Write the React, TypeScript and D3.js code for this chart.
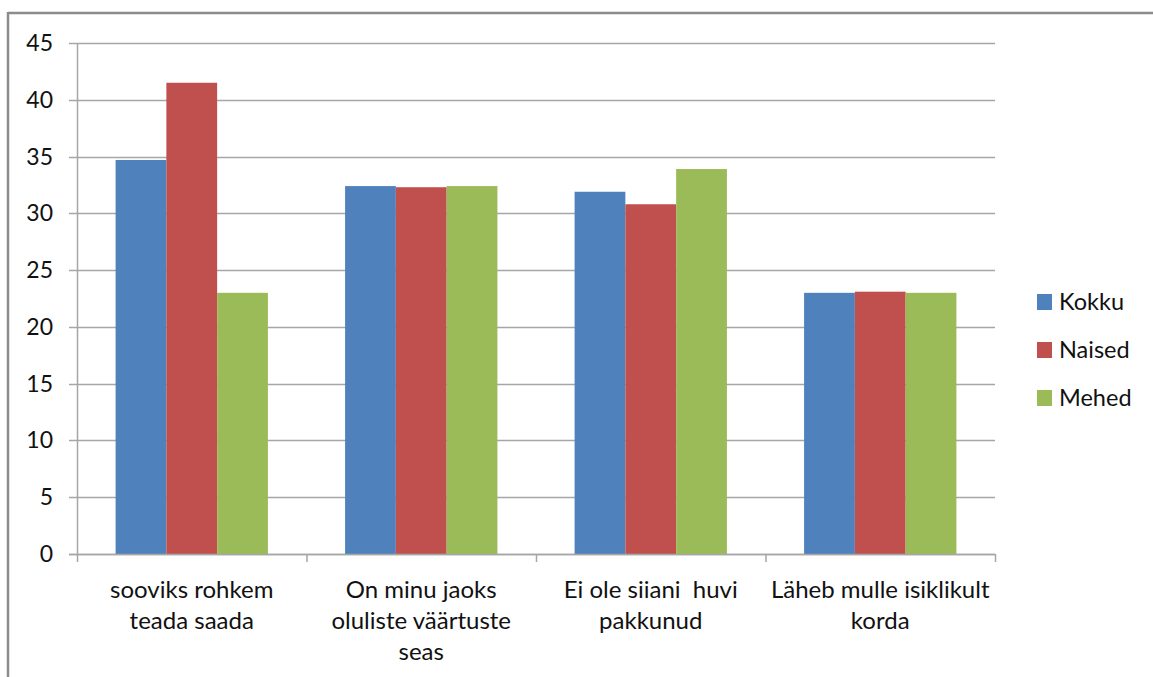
import React from "react";
import * as d3 from "d3";

const categories: string[][] = [
  ["sooviks rohkem", "teada saada"],
  ["On minu jaoks", "oluliste väärtuste", "seas"],
  ["Ei ole siiani  huvi", "pakkunud"],
  ["Läheb mulle isiklikult", "korda"],
];
const seriesNames = ["Kokku", "Naised", "Mehed"];
const seriesColors = ["#4f81bd", "#c0504d", "#9bbb59"];
const kokku = [34.7, 32.4, 31.9, 23.0];
const naised = [41.5, 32.3, 30.8, 23.1];
const mehed = [23.0, 32.4, 33.9, 23.0];
const yTicks = [0, 5, 10, 15, 20, 25, 30, 35, 40, 45];

const W = 1153;
const H = 677;
const FONT = "Lato, 'Open Sans', sans-serif";

export default function App() {
  const left = 77, right = 995, top = 43, bottom = 554;
  const series = [kokku, naised, mehed];
  const x0 = d3.scaleBand<number>().domain(d3.range(categories.length)).range([left, right]).paddingInner(0).paddingOuter(0);
  const x1 = d3.scaleBand<number>().domain([0, 1, 2]).range([0, x0.bandwidth()]).paddingInner(0).paddingOuter(0.76);
  const y = d3.scaleLinear().domain([0, 45]).range([bottom, top]);
  const grid = "#a6a6a6";
  return (
    <div style={{ position: "absolute", left: 0, top: 0 }}>
      <svg width={W} height={H} style={{ display: "block", background: "#fff" }}>
        <line x1={8} x2={W} y1={13} y2={13} stroke="#8c8c8c" strokeWidth={2.5} />
        <line x1={8} x2={8} y1={12} y2={H} stroke="#8c8c8c" strokeWidth={2.5} />
        {yTicks.map((t) => (
          <g key={t}>
            <line x1={69} x2={right} y1={Math.round(y(t)) + 0.5} y2={Math.round(y(t)) + 0.5} stroke={grid} strokeWidth={1.5} />
            <text x={53} y={y(t)} dy="0.35em" textAnchor="end" fontFamily={FONT} fontSize={23} fill="#111">{t}</text>
          </g>
        ))}
        {categories.map((_, ci) => (
          <g key={ci}>
            {series.map((s, si) => (
              <rect key={si}
                x={(x0(ci) as number) + (x1(si) as number)}
                y={y(s[ci])}
                width={x1.bandwidth()}
                height={bottom - y(s[ci])}
                fill={seriesColors[si]} />
            ))}
          </g>
        ))}
        <line x1={left + 0.5} x2={left + 0.5} y1={top} y2={bottom + 1} stroke={grid} strokeWidth={1.5} />
        <line x1={69} x2={right} y1={bottom + 0.5} y2={bottom + 0.5} stroke={grid} strokeWidth={1.5} />
        {d3.range(categories.length + 1).map((i) => {
          const xx = left + i * x0.step();
          return <line key={i} x1={xx + 0.5} x2={xx + 0.5} y1={bottom} y2={bottom + 8} stroke={grid} strokeWidth={1.5} />;
        })}
        {categories.map((lines, ci) => (
          <text key={ci} x={(x0(ci) as number) + x0.bandwidth() / 2} textAnchor="middle" fontFamily={FONT} fontSize={24} fill="#111">
            {lines.map((l, li) => (
              <tspan key={li} x={(x0(ci) as number) + x0.bandwidth() / 2} y={598 + li * 31} style={{ whiteSpace: "pre" }}>{l}</tspan>
            ))}
          </text>
        ))}
        {seriesNames.map((n, i) => (
          <g key={n} transform={`translate(1037, ${294 + i * 48})`}>
            <rect x={0} y={0} width={15} height={16} fill={seriesColors[i]} />
            <text x={22} y={8} dy="0.36em" fontFamily={FONT} fontSize={23.5} fill="#111">{n}</text>
          </g>
        ))}
      </svg>
    </div>
  );
}
